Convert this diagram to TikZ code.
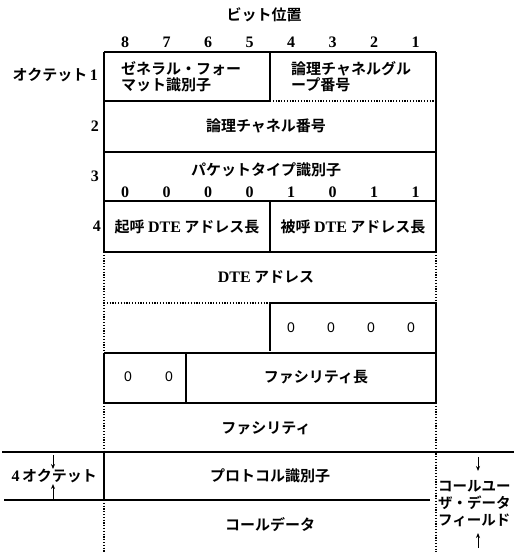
\documentclass[tikz,border=0pt]{standalone}
\usepackage{fontspec}
\setmainfont{Liberation Serif}
\newfontfamily\cjk{Noto Sans CJK JP}[BoldFont={Noto Sans CJK JP Bold}]
\newfontfamily\hv{Liberation Sans}
\usetikzlibrary{arrows.meta}
\begin{document}
\begin{tikzpicture}[x=1pt,y=-1pt,
  ln/.style={line width=1.1pt},
  dl/.style={line width=1.1pt, dash pattern=on 1.2pt off 1.6pt},
  jt/.style={font=\cjk\bfseries\fontsize{15}{16}\selectfont, inner sep=0pt},
  num/.style={font=\bfseries\fontsize{16}{16}\selectfont, inner sep=0pt},
  zero/.style={font=\hv\fontsize{14}{15}\selectfont, inner sep=0pt},
  arr/.style={line width=0.9pt, -{Stealth[length=5pt,width=4pt]}}]
\useasboundingbox (0,0) rectangle (514,552);
% title and bit numbers
\node[jt] (title) at (264,15) {ビット位置};
\foreach \b [count=\i from 0] in {8,7,6,5,4,3,2,1}
  \node[num] (bit\b) at (125+41.5*\i,42) {\b};
% outer verticals
\draw[ln] (436,52) -- (436,252);
\draw[dl] (436,252) -- (436,303);
\draw[ln] (436,303) -- (436,403);
\draw[dl] (436,403) -- (436,552);
\draw[ln] (104,52) -- (104,252);
\draw[dl] (104,252) -- (104,353);
\draw[ln] (104,353) -- (104,403);
\draw[dl] (104,403) -- (104,452);
\draw[ln] (104,452) -- (104,500);
\draw[dl] (104,500) -- (104,552);
% horizontals
\draw[ln] (104,52) -- (436,52);
\draw[ln] (104,101) -- (270,101);
\draw[dl] (270,101) -- (436,101);
\draw[ln] (104,152) -- (436,152);
\draw[ln] (104,201) -- (436,201);
\draw[ln] (104,252) -- (436,252);
\draw[dl] (104,303) -- (270,303);
\draw[ln] (270,303) -- (436,303);
\draw[ln] (104,353) -- (436,353);
\draw[ln] (104,403) -- (436,403);
\draw[ln] (2,452) -- (514,452);
\draw[ln] (4,500) -- (430,500);
% dividers
\draw[ln] (270,52) -- (270,101);
\draw[ln] (270,201) -- (270,252);
\draw[ln] (270,303) -- (270,351);
\draw[ln] (186,353) -- (186,403);
% row labels
\node[jt, anchor=east] (o1) at (98,75) {オクテット\,{\rmfamily\fontsize{16}{16}\selectfont 1}};
\node[num, anchor=east] (o2) at (99,126) {2};
\node[num, anchor=east] (o3) at (99,176) {3};
\node[num, anchor=east] (o4) at (101,226) {4};
% row 1
\node[jt, anchor=west, align=left] (gfi) at (121,77) {ゼネラル・フォー\\マット識別子};
\node[jt, anchor=west, align=left] (lcg) at (291,77) {論理チャネルグル\\ープ番号};
% row 2
\node[jt] (lcn) at (266,126) {論理チャネル番号};
% row 3
\node[jt] (pti) at (266,170) {パケットタイプ識別子};
\foreach \v [count=\i from 0] in {0,0,0,0,1,0,1,1}
  \node[num] (pb\i) at (125+41.5*\i,192) {\v};
% row 4
\node[jt] (cga) at (187,227) {起呼 {\rmfamily\fontsize{16}{16}\selectfont DTE} アドレス長};
\node[jt] (cda) at (353,227) {被呼 {\rmfamily\fontsize{16}{16}\selectfont DTE} アドレス長};
% DTE address
\node[jt] (dte) at (266,277) {{\rmfamily\fontsize{16}{16}\selectfont DTE} アドレス};
% 0000 row
\foreach \i in {0,1,2,3}
  \node[zero] (z\i) at (291+40*\i,328) {0};
% 00 row
\node[zero] (y0) at (128,377) {0};
\node[zero] (y1) at (169,377) {0};
\node[jt] (fl) at (316,377) {ファシリティ長};
% facilities
\node[jt] (fac) at (266,428) {ファシリティ};
% protocol identifier
\node[jt] (pid) at (270,476) {プロトコル識別子};
\node[jt, anchor=east] (four) at (97,476) {{\rmfamily\fontsize{16}{16}\selectfont 4}\,オクテット};
\coordinate (la1) at (53,455);
\coordinate (la2) at (53,469);
\coordinate (lb1) at (53,499);
\coordinate (lb2) at (53,484);
\draw[arr] (la1) -- (la2);
\draw[arr] (lb1) -- (lb2);
% call data
\node[jt] (cd) at (270,525) {コールデータ};
% call user data field
\node[jt, anchor=west, align=left, font=\cjk\bfseries\fontsize{14.5}{17}\selectfont] (cudf) at (438,504) {コールユー\\ザ・データ\\フィールド};
\coordinate (ra1) at (478,457);
\coordinate (ra2) at (478,471);
\coordinate (rb1) at (478,548);
\coordinate (rb2) at (478,533);
\draw[arr] (ra1) -- (ra2);
\draw[arr] (rb1) -- (rb2);
\end{tikzpicture}
\end{document}
